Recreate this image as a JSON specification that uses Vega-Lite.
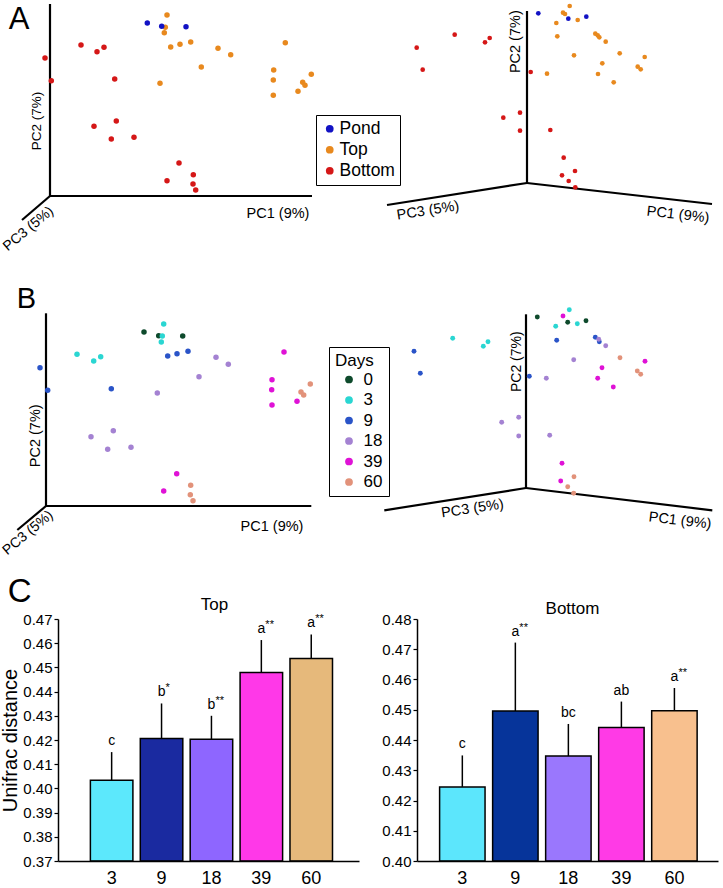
{
  "$schema": "https://vega.github.io/schema/vega-lite/v6.json",
  "padding": 0,
  "background": "white",
  "config": {
    "view": {"stroke": null},
    "font": "Liberation Sans",
    "text": {"color": "black"},
    "title": {"color": "black", "fontWeight": "normal"}
  },
  "spacing": 0,
  "resolve": {"scale": {"color": "independent"}, "legend": {"color": "independent"}},
  "vconcat": [
    {
      "spacing": 0,
      "resolve": {"scale": {"color": "independent"}, "legend": {"color": "independent"}},
      "hconcat": [
        {
          "width": 257,
          "height": 258,
          "encoding": {
            "x": {"field": "x", "type": "quantitative", "scale": {"domain": [8, 265], "nice": false, "zero": false}, "axis": null},
            "y": {"field": "y", "type": "quantitative", "scale": {"domain": [-62, 196], "nice": false, "zero": false}, "axis": null}
          },
          "layer": [
            {
              "data": {"values": [
                {"x": 0, "y": 0, "x2": 0, "y2": 192},
                {"x": 0, "y": 0, "x2": 262, "y2": 0},
                {"x": 0, "y": 0, "x2": -28, "y2": -24}
              ]},
              "mark": {"type": "rule", "color": "black", "strokeWidth": 2.2},
              "encoding": {"x2": {"field": "x2"}, "y2": {"field": "y2"}}
            },
            {
              "data": {"values": [
                {"x": 31, "y": 151, "group": "Bottom"}, {"x": 47, "y": 144.3, "group": "Bottom"}, {"x": 54, "y": 148.7, "group": "Bottom"},
                {"x": -5, "y": 138, "group": "Bottom"}, {"x": 1.3, "y": 115.3, "group": "Bottom"}, {"x": 64.7, "y": 117, "group": "Bottom"},
                {"x": 44, "y": 69.7, "group": "Bottom"}, {"x": 66.3, "y": 75, "group": "Bottom"}, {"x": 61.3, "y": 57, "group": "Bottom"},
                {"x": 84, "y": 58.7, "group": "Bottom"}, {"x": 129, "y": 33, "group": "Bottom"}, {"x": 143.3, "y": 21.3, "group": "Bottom"},
                {"x": 117, "y": 15.3, "group": "Bottom"}, {"x": 143, "y": 12, "group": "Bottom"}, {"x": 145.7, "y": 6, "group": "Bottom"},
                {"x": 117, "y": 181, "group": "Top"}, {"x": 115.3, "y": 168.7, "group": "Top"}, {"x": 114.3, "y": 163.3, "group": "Top"},
                {"x": 120.7, "y": 149, "group": "Top"}, {"x": 130, "y": 151.7, "group": "Top"}, {"x": 140.7, "y": 154, "group": "Top"},
                {"x": 168, "y": 147.7, "group": "Top"}, {"x": 180.7, "y": 141.3, "group": "Top"}, {"x": 151.3, "y": 129, "group": "Top"},
                {"x": 110, "y": 112.7, "group": "Top"}, {"x": 235.3, "y": 153.3, "group": "Top"}, {"x": 223.7, "y": 126, "group": "Top"},
                {"x": 223.3, "y": 116, "group": "Top"}, {"x": 223.3, "y": 100.7, "group": "Top"}, {"x": 261.3, "y": 121.7, "group": "Top"},
                {"x": 252.7, "y": 113.7, "group": "Top"}, {"x": 255, "y": 110.7, "group": "Top"}, {"x": 248, "y": 104.7, "group": "Top"},
                {"x": 97.3, "y": 173, "group": "Pond"}, {"x": 111.7, "y": 169.7, "group": "Pond"}, {"x": 136, "y": 169.3, "group": "Pond"}
              ]},
              "mark": {"type": "circle", "size": 30, "opacity": 1},
              "encoding": {
                "color": {"field": "group", "type": "nominal", "scale": {"domain": ["Pond", "Top", "Bottom"], "range": ["#1212c4", "#e8891e", "#d51717"]}, "legend": null}
              }
            },
            {
              "data": {"values": [{"x": -12.7, "y": 75, "label": "PC2 (7%)"}]},
              "mark": {"type": "text", "angle": 270, "fontSize": 13.5},
              "encoding": {"text": {"field": "label"}}
            },
            {
              "data": {"values": [{"x": 228, "y": -18, "label": "PC1 (9%)"}]},
              "mark": {"type": "text", "fontSize": 14.5},
              "encoding": {"text": {"field": "label"}}
            },
            {
              "data": {"values": [{"x": -21.5, "y": -33, "label": "PC3 (5%)"}]},
              "mark": {"type": "text", "angle": 320, "fontSize": 14},
              "encoding": {"text": {"field": "label"}}
            },
            {
              "data": {"values": [{"x": -31, "y": 167, "label": "A"}]},
              "mark": {"type": "text", "fontSize": 31, "baseline": "alphabetic"},
              "encoding": {"text": {"field": "label"}}
            }
          ]
        },
        {
          "width": 407,
          "height": 258,
          "encoding": {
            "x": {"field": "x", "type": "quantitative", "scale": {"domain": [-211, 196], "nice": false, "zero": false}, "axis": null},
            "y": {"field": "y", "type": "quantitative", "scale": {"domain": [-75, 183], "nice": false, "zero": false}, "axis": null}
          },
          "layer": [
            {
              "data": {"values": [
                {"x": 0, "y": 0, "x2": 0, "y2": 172},
                {"x": 0, "y": 0, "x2": -140, "y2": -22},
                {"x": 0, "y": 0, "x2": 185, "y2": -21}
              ]},
              "mark": {"type": "rule", "color": "black", "strokeWidth": 2.2},
              "encoding": {"x2": {"field": "x2"}, "y2": {"field": "y2"}}
            },
            {
              "data": {"values": [
                {"x": -110.3, "y": 135.3, "group": "Bottom"}, {"x": -72.3, "y": 148.3, "group": "Bottom"}, {"x": -42, "y": 140.7, "group": "Bottom"},
                {"x": -37.3, "y": 145, "group": "Bottom"}, {"x": -104.3, "y": 113.3, "group": "Bottom"}, {"x": 3.7, "y": 111, "group": "Bottom"},
                {"x": -23.7, "y": 65.3, "group": "Bottom"}, {"x": -7, "y": 70.3, "group": "Bottom"}, {"x": -7, "y": 52.3, "group": "Bottom"},
                {"x": 23.3, "y": 53, "group": "Bottom"}, {"x": 36.7, "y": 25.3, "group": "Bottom"}, {"x": 48, "y": 12, "group": "Bottom"},
                {"x": 35, "y": 7.7, "group": "Bottom"}, {"x": 41.7, "y": 2, "group": "Bottom"}, {"x": 48.3, "y": -4.3, "group": "Bottom"},
                {"x": 42.7, "y": 177, "group": "Top"}, {"x": 36, "y": 170.3, "group": "Top"}, {"x": 38, "y": 169, "group": "Top"},
                {"x": 29.3, "y": 160, "group": "Top"}, {"x": 50.7, "y": 163, "group": "Top"}, {"x": 30.3, "y": 146.7, "group": "Top"},
                {"x": 68.3, "y": 149.3, "group": "Top"}, {"x": 70.7, "y": 147.7, "group": "Top"}, {"x": 72.3, "y": 145.7, "group": "Top"},
                {"x": 78.7, "y": 141.3, "group": "Top"}, {"x": 47, "y": 127.7, "group": "Top"}, {"x": 92.7, "y": 129.7, "group": "Top"},
                {"x": 117.7, "y": 126, "group": "Top"}, {"x": 75.3, "y": 119.7, "group": "Top"}, {"x": 110.7, "y": 116.3, "group": "Top"},
                {"x": 113.7, "y": 113.7, "group": "Top"}, {"x": 71, "y": 109, "group": "Top"}, {"x": 20, "y": 109.3, "group": "Top"},
                {"x": 86.7, "y": 100.7, "group": "Top"},
                {"x": 11.3, "y": 169.7, "group": "Pond"}, {"x": 41.3, "y": 164.3, "group": "Pond"}, {"x": 59.3, "y": 166.3, "group": "Pond"}
              ]},
              "mark": {"type": "circle", "size": 22, "opacity": 1},
              "encoding": {
                "color": {
                  "field": "group", "type": "nominal",
                  "scale": {"domain": ["Pond", "Top", "Bottom"], "range": ["#1212c4", "#e8891e", "#d51717"]},
                  "legend": {
                    "orient": "none", "legendX": 0, "legendY": 115, "title": null,
                    "strokeColor": "black", "fillColor": "white", "padding": 5,
                    "symbolOffset": 0, "symbolType": "circle", "symbolSize": 60, "symbolStrokeWidth": 0,
                    "labelFontSize": 17.5, "labelOffset": 1, "labelColor": "black", "rowPadding": 2
                  }
                }
              }
            },
            {
              "data": {"values": [{"x": -11.3, "y": 141.3, "label": "PC2 (7%)"}]},
              "mark": {"type": "text", "angle": 270, "fontSize": 14.5},
              "encoding": {"text": {"field": "label"}}
            },
            {
              "data": {"values": [{"x": -99, "y": -28, "label": "PC3 (5%)"}]},
              "mark": {"type": "text", "angle": 351, "fontSize": 14.5},
              "encoding": {"text": {"field": "label"}}
            },
            {
              "data": {"values": [{"x": 151, "y": -32, "label": "PC1 (9%)"}]},
              "mark": {"type": "text", "angle": 6.5, "fontSize": 14.5},
              "encoding": {"text": {"field": "label"}}
            }
          ]
        }
      ]
    },
    {
      "spacing": 0,
      "resolve": {"scale": {"color": "independent"}, "legend": {"color": "independent"}},
      "hconcat": [
        {
          "width": 270,
          "height": 318,
          "encoding": {
            "x": {"field": "x", "type": "quantitative", "scale": {"domain": [12, 282], "nice": false, "zero": false}, "axis": null},
            "y": {"field": "y", "type": "quantitative", "scale": {"domain": [-70, 248], "nice": false, "zero": false}, "axis": null}
          },
          "layer": [
            {
              "data": {"values": [
                {"x": 0, "y": 0, "x2": 0, "y2": 192.7},
                {"x": 0, "y": 0, "x2": 265.3, "y2": 0},
                {"x": 0, "y": 0, "x2": -28.7, "y2": -24}
              ]},
              "mark": {"type": "rule", "color": "black", "strokeWidth": 2.2},
              "encoding": {"x2": {"field": "x2"}, "y2": {"field": "y2"}}
            },
            {
              "data": {"values": [
                {"x": 98, "y": 174, "day": 0}, {"x": 112.7, "y": 170.3, "day": 0}, {"x": 136.7, "y": 170, "day": 0},
                {"x": 117.7, "y": 182, "day": 3}, {"x": 116.3, "y": 170, "day": 3}, {"x": 115.3, "y": 164, "day": 3},
                {"x": 31, "y": 151.7, "day": 3}, {"x": 47.7, "y": 145, "day": 3}, {"x": 54.7, "y": 149.3, "day": 3},
                {"x": -6, "y": 138.3, "day": 9}, {"x": 1.7, "y": 115.7, "day": 9}, {"x": 65.3, "y": 117.3, "day": 9},
                {"x": 121.7, "y": 150, "day": 9}, {"x": 131, "y": 152.3, "day": 9}, {"x": 142, "y": 154.7, "day": 9},
                {"x": 170, "y": 148.7, "day": 18}, {"x": 182.3, "y": 141.7, "day": 18}, {"x": 153, "y": 129.3, "day": 18},
                {"x": 111.3, "y": 113, "day": 18}, {"x": 45, "y": 69.3, "day": 18}, {"x": 67.3, "y": 75.3, "day": 18},
                {"x": 61.7, "y": 56.7, "day": 18}, {"x": 85, "y": 58.7, "day": 18},
                {"x": 238, "y": 154, "day": 39}, {"x": 226, "y": 126.3, "day": 39}, {"x": 225.7, "y": 116.3, "day": 39},
                {"x": 226, "y": 101, "day": 39}, {"x": 251, "y": 104.7, "day": 39}, {"x": 130.7, "y": 32.3, "day": 39},
                {"x": 117.7, "y": 15, "day": 39},
                {"x": 264.3, "y": 122, "day": 60}, {"x": 255, "y": 114, "day": 60}, {"x": 257.7, "y": 111, "day": 60},
                {"x": 144.7, "y": 20.7, "day": 60}, {"x": 144.3, "y": 11.3, "day": 60}, {"x": 147, "y": 5.3, "day": 60}
              ]},
              "mark": {"type": "circle", "size": 30, "opacity": 1},
              "encoding": {
                "color": {"field": "day", "type": "nominal", "scale": {"domain": [0, 3, 9, 18, 39, 60], "range": ["#0e4a2c", "#2ad6d2", "#2a54c8", "#a482d2", "#df12d6", "#e2927a"]}, "legend": null}
              }
            },
            {
              "data": {"values": [{"x": -10.3, "y": 70.2, "label": "PC2 (7%)"}]},
              "mark": {"type": "text", "angle": 270, "fontSize": 14.5},
              "encoding": {"text": {"field": "label"}}
            },
            {
              "data": {"values": [{"x": 226, "y": -21, "label": "PC1 (9%)"}]},
              "mark": {"type": "text", "fontSize": 14.5},
              "encoding": {"text": {"field": "label"}}
            },
            {
              "data": {"values": [{"x": -18, "y": -27, "label": "PC3 (5%)"}]},
              "mark": {"type": "text", "angle": 320, "fontSize": 14},
              "encoding": {"text": {"field": "label"}}
            },
            {
              "data": {"values": [{"x": -19.5, "y": 198, "label": "B"}]},
              "mark": {"type": "text", "fontSize": 29, "baseline": "alphabetic"},
              "encoding": {"text": {"field": "label"}}
            }
          ]
        },
        {
          "width": 394,
          "height": 318,
          "encoding": {
            "x": {"field": "x", "type": "quantitative", "scale": {"domain": [-197, 197], "nice": false, "zero": false}, "axis": null},
            "y": {"field": "y", "type": "quantitative", "scale": {"domain": [-88, 230], "nice": false, "zero": false}, "axis": null}
          },
          "layer": [
            {
              "data": {"values": [
                {"x": 0, "y": 0, "x2": 0, "y2": 173.7},
                {"x": 0, "y": 0, "x2": -141.7, "y2": -22.3},
                {"x": 0, "y": 0, "x2": 186.3, "y2": -22.3}
              ]},
              "mark": {"type": "rule", "color": "black", "strokeWidth": 2.2},
              "encoding": {"x2": {"field": "x2"}, "y2": {"field": "y2"}}
            },
            {
              "data": {"values": [
                {"x": 11.3, "y": 171, "day": 0}, {"x": 41.7, "y": 165.7, "day": 0}, {"x": 60, "y": 167.3, "day": 0},
                {"x": 43.3, "y": 178.3, "day": 3}, {"x": 29.7, "y": 161.7, "day": 3}, {"x": 51.3, "y": 164.3, "day": 3},
                {"x": -73.3, "y": 149.7, "day": 3}, {"x": -42.7, "y": 141.7, "day": 3}, {"x": -38, "y": 146.3, "day": 3},
                {"x": -112, "y": 136.7, "day": 9}, {"x": -105.7, "y": 114.7, "day": 9}, {"x": 3.3, "y": 111.7, "day": 9},
                {"x": 30.7, "y": 147.7, "day": 9}, {"x": 69.3, "y": 150.7, "day": 9}, {"x": 73.3, "y": 146.3, "day": 9},
                {"x": 72.7, "y": 148.7, "day": 18}, {"x": 79.7, "y": 142.3, "day": 18}, {"x": 47.7, "y": 128.3, "day": 18},
                {"x": 20.3, "y": 109.7, "day": 18}, {"x": -24.3, "y": 65.7, "day": 18}, {"x": -7.3, "y": 70.7, "day": 18},
                {"x": -7.3, "y": 52, "day": 18}, {"x": 23.7, "y": 52.7, "day": 18},
                {"x": 37, "y": 172, "day": 39}, {"x": 119, "y": 126.7, "day": 39}, {"x": 76, "y": 120.3, "day": 39},
                {"x": 71.7, "y": 109.7, "day": 39}, {"x": 87.3, "y": 101, "day": 39}, {"x": 36, "y": 24.7, "day": 39},
                {"x": 34.7, "y": 7, "day": 39},
                {"x": 94, "y": 130.3, "day": 60}, {"x": 111.3, "y": 117, "day": 60}, {"x": 114.7, "y": 113.7, "day": 60},
                {"x": 48, "y": 11.3, "day": 60}, {"x": 41.7, "y": 1.3, "day": 60}, {"x": 47.7, "y": -5.3, "day": 60}
              ]},
              "mark": {"type": "circle", "size": 24, "opacity": 1},
              "encoding": {
                "color": {
                  "field": "day", "type": "nominal",
                  "scale": {"domain": [0, 3, 9, 18, 39, 60], "range": ["#0e4a2c", "#2ad6d2", "#2a54c8", "#a482d2", "#df12d6", "#e2927a"]},
                  "legend": {
                    "orient": "none", "legendX": 0, "legendY": 89, "title": "Days",
                    "titleFontSize": 17, "titleFontWeight": "normal", "titleColor": "black", "titlePadding": 1,
                    "strokeColor": "black", "fillColor": "white", "padding": 6,
                    "symbolOffset": 5.5, "symbolType": "circle", "symbolSize": 60, "symbolStrokeWidth": 0,
                    "labelFontSize": 17, "labelOffset": 6, "labelColor": "black", "rowPadding": 2.5
                  }
                }
              }
            },
            {
              "data": {"values": [{"x": -9, "y": 126.3, "label": "PC2 (7%)"}]},
              "mark": {"type": "text", "angle": 270, "fontSize": 14},
              "encoding": {"text": {"field": "label"}}
            },
            {
              "data": {"values": [{"x": -53.5, "y": -21, "label": "PC3 (5%)"}]},
              "mark": {"type": "text", "angle": 351.5, "fontSize": 14.5},
              "encoding": {"text": {"field": "label"}}
            },
            {
              "data": {"values": [{"x": 154, "y": -33, "label": "PC1 (9%)"}]},
              "mark": {"type": "text", "angle": 6.8, "fontSize": 14.5},
              "encoding": {"text": {"field": "label"}}
            }
          ]
        }
      ]
    },
    {
      "title": {"text": "C", "anchor": "start", "fontSize": 33, "fontWeight": "normal", "offset": -39, "baseline": "alphabetic", "dx": 7},
      "spacing": 22,
      "resolve": {"scale": {"color": "independent"}, "legend": {"color": "independent"}},
      "hconcat": [
        {
          "width": 301,
          "height": 242,
          "title": {"text": "Top", "fontSize": 17, "fontWeight": "normal", "offset": -2, "frame": "group", "dx": 6},
          "data": {"values": [
            {"day": "3", "value": 0.4034, "upper": 0.415, "letter": "c", "stars": ""},
            {"day": "9", "value": 0.4206, "upper": 0.4351, "letter": "b", "stars": "*"},
            {"day": "18", "value": 0.4203, "upper": 0.43, "letter": "b", "stars": "**"},
            {"day": "39", "value": 0.4479, "upper": 0.4613, "letter": "a", "stars": "**"},
            {"day": "60", "value": 0.4537, "upper": 0.4636, "letter": "a", "stars": "**"}
          ]},
          "encoding": {
            "x": {
              "field": "day", "type": "ordinal",
              "scale": {"domain": ["3", "9", "18", "39", "60"], "paddingInner": 0.148, "paddingOuter": 0.59, "align": 0.55},
              "axis": {"title": null, "labelAngle": 0, "labelFontSize": 18, "labelColor": "black", "ticks": false, "labelPadding": 8, "domainColor": "black", "domainWidth": 1.5, "zindex": 1}
            }
          },
          "layer": [
            {
              "mark": {"type": "bar", "stroke": "black", "strokeWidth": 1.5},
              "encoding": {
                "y": {
                  "field": "value", "type": "quantitative",
                  "scale": {"domain": [0.37, 0.47], "nice": false, "zero": false, "clamp": true},
                  "axis": {
                    "title": "Unifrac distance", "values": [0.37, 0.38, 0.39, 0.40, 0.41, 0.42, 0.43, 0.44, 0.45, 0.46, 0.47],
                    "tickCount": 30, "format": ".2f", "labelFontSize": 15, "labelColor": "black", "labelOverlap": false, "tickSize": 4, "labelPadding": 2,
                    "titleFontSize": 20, "titleFontWeight": "normal", "titleColor": "black", "titlePadding": 2,
                    "domainColor": "black", "tickColor": "black", "domainWidth": 1.5, "tickWidth": 1.2, "grid": false
                  }
                },
                "y2": {"datum": 0.37},
                "color": {"field": "day", "type": "nominal", "scale": {"domain": ["3", "9", "18", "39", "60"], "range": ["#5ce8fc", "#1a2aa0", "#8e66ff", "#ff38e8", "#e6b97b"]}, "legend": null}
              }
            },
            {
              "mark": {"type": "rule", "color": "black", "strokeWidth": 1.5},
              "encoding": {
                "y": {"field": "value", "type": "quantitative", "scale": {"domain": [0.37, 0.47], "nice": false, "zero": false, "clamp": true}},
                "y2": {"field": "upper"}
              }
            },
            {
              "mark": {"type": "text", "fontSize": 14, "dy": -7, "baseline": "alphabetic"},
              "encoding": {
                "y": {"field": "upper", "type": "quantitative", "scale": {"domain": [0.37, 0.47], "nice": false, "zero": false, "clamp": true}},
                "text": {"field": "letter"}
              }
            },
            {
              "mark": {"type": "text", "fontSize": 11, "dy": -12, "dx": 4, "align": "left", "baseline": "alphabetic"},
              "encoding": {
                "y": {"field": "upper", "type": "quantitative", "scale": {"domain": [0.37, 0.47], "nice": false, "zero": false, "clamp": true}},
                "text": {"field": "stars"}
              }
            }
          ]
        },
        {
          "width": 301,
          "height": 242,
          "title": {"text": "Bottom", "fontSize": 17, "fontWeight": "normal", "offset": -6, "frame": "group", "dx": 5},
          "data": {"values": [
            {"day": "3", "value": 0.4245, "upper": 0.4349, "letter": "c", "stars": ""},
            {"day": "9", "value": 0.4496, "upper": 0.4722, "letter": "a", "stars": "**"},
            {"day": "18", "value": 0.4347, "upper": 0.4453, "letter": "bc", "stars": ""},
            {"day": "39", "value": 0.4441, "upper": 0.4527, "letter": "ab", "stars": ""},
            {"day": "60", "value": 0.4497, "upper": 0.4572, "letter": "a", "stars": "**"}
          ]},
          "encoding": {
            "x": {
              "field": "day", "type": "ordinal",
              "scale": {"domain": ["3", "9", "18", "39", "60"], "paddingInner": 0.143, "paddingOuter": 0.41, "align": 0.52},
              "axis": {"title": null, "labelAngle": 0, "labelFontSize": 18, "labelColor": "black", "ticks": false, "labelPadding": 8, "domainColor": "black", "domainWidth": 1.5, "zindex": 1}
            }
          },
          "layer": [
            {
              "mark": {"type": "bar", "stroke": "black", "strokeWidth": 1.5},
              "encoding": {
                "y": {
                  "field": "value", "type": "quantitative",
                  "scale": {"domain": [0.40, 0.48], "nice": false, "zero": false, "clamp": true},
                  "axis": {
                    "title": null, "values": [0.40, 0.41, 0.42, 0.43, 0.44, 0.45, 0.46, 0.47, 0.48],
                    "tickCount": 30, "format": ".2f", "labelFontSize": 15, "labelColor": "black", "labelOverlap": false, "tickSize": 4, "labelPadding": 2,
                    "domainColor": "black", "tickColor": "black", "domainWidth": 1.5, "tickWidth": 1.2, "grid": false
                  }
                },
                "y2": {"datum": 0.40},
                "color": {"field": "day", "type": "nominal", "scale": {"domain": ["3", "9", "18", "39", "60"], "range": ["#5ce6fc", "#06349a", "#9a77fd", "#ff3ae6", "#f8c08e"]}, "legend": null}
              }
            },
            {
              "mark": {"type": "rule", "color": "black", "strokeWidth": 1.5},
              "encoding": {
                "y": {"field": "value", "type": "quantitative", "scale": {"domain": [0.40, 0.48], "nice": false, "zero": false, "clamp": true}},
                "y2": {"field": "upper"}
              }
            },
            {
              "mark": {"type": "text", "fontSize": 14, "dy": -7, "baseline": "alphabetic"},
              "encoding": {
                "y": {"field": "upper", "type": "quantitative", "scale": {"domain": [0.40, 0.48], "nice": false, "zero": false, "clamp": true}},
                "text": {"field": "letter"}
              }
            },
            {
              "mark": {"type": "text", "fontSize": 11, "dy": -12, "dx": 4, "align": "left", "baseline": "alphabetic"},
              "encoding": {
                "y": {"field": "upper", "type": "quantitative", "scale": {"domain": [0.40, 0.48], "nice": false, "zero": false, "clamp": true}},
                "text": {"field": "stars"}
              }
            }
          ]
        }
      ]
    }
  ]
}
